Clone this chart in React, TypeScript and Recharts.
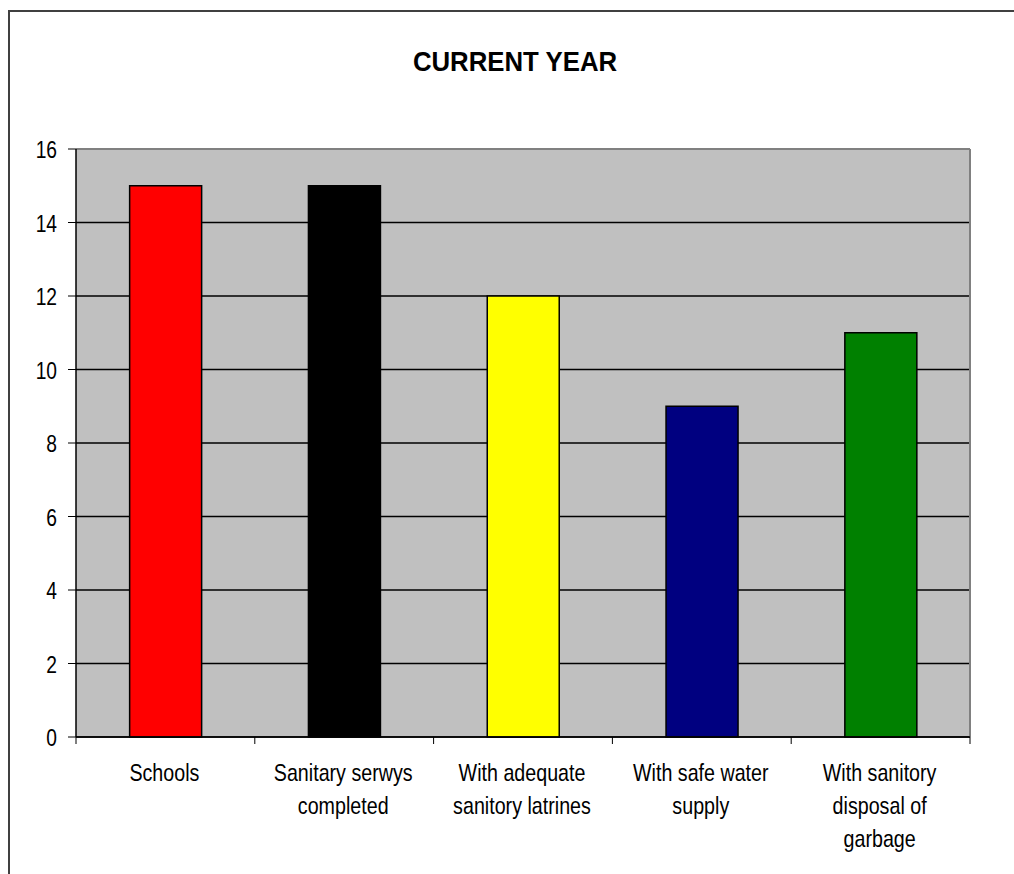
import React from 'react';
import { BarChart, Bar, XAxis, YAxis, CartesianGrid, Cell } from 'recharts';

const categories = [
  'Schools',
  'Sanitary serwys\ncompleted',
  'With adequate\nsanitory latrines',
  'With safe water\nsupply',
  'With sanitory\ndisposal of\ngarbage',
];
const values = [15, 15, 12, 9, 11];
const barColors = ['#FF0000', '#000000', '#FFFF00', '#000080', '#008000'];
const yTicks = [0, 2, 4, 6, 8, 10, 12, 14, 16];

const data = categories.map((name, i) => ({ name, value: values[i] }));

const FONT = '"Liberation Sans", Arial, sans-serif';

const YTick = (props: any) => {
  const { x, y, payload } = props;
  return (
    <text
      transform={`translate(${x - 9}, ${y + 9}) scale(0.8, 1)`}
      textAnchor="end"
      fontFamily={FONT}
      fontSize={24}
      fill="#000"
    >
      {payload.value}
    </text>
  );
};

const XTick = (props: any) => {
  const { x, y, payload, index } = props;
  const half = payload.offset ?? 89.4;
  const lines = String(payload.value).split('\n');
  const top = y - 8;
  return (
    <g>
      <line x1={x - half} x2={x - half} y1={top} y2={top + 7} stroke="#000" />
      {index === categories.length - 1 && (
        <line x1={x + half} x2={x + half} y1={top} y2={top + 7} stroke="#000" />
      )}
      {lines.map((ln, i) => (
        <text
          key={i}
          transform={`translate(${x - 1}, ${top + 44 + i * 33}) scale(0.82, 1)`}
          textAnchor="middle"
          fontFamily={FONT}
          fontSize={24}
          fill="#000"
        >
          {ln}
        </text>
      ))}
    </g>
  );
};

export default function App() {
  return (
    <div
      style={{
        position: 'fixed',
        left: 0,
        top: 0,
        width: 1014,
        height: 874,
        overflow: 'hidden',
        background: '#fff',
      }}
    >
      <div
        style={{
          position: 'absolute',
          left: 8,
          top: 10,
          width: 1100,
          height: 1000,
          border: '2px solid #404040',
        }}
      />
      <div
        style={{
          position: 'absolute',
          left: 315,
          width: 400,
          top: 46,
          textAlign: 'center',
          fontFamily: FONT,
          fontWeight: 'bold',
          fontSize: 28,
          transform: 'scaleX(0.92)',
          color: '#000',
        }}
      >
        CURRENT YEAR
      </div>
      <div style={{ position: 'absolute', left: 0, top: 0 }}>
        <BarChart
          width={1014}
          height={874}
          data={data}
          margin={{ top: 149, right: 44, bottom: 0, left: 0 }}
          barCategoryGap="30%"
        >
          <CartesianGrid vertical={false} fill="#C0C0C0" stroke="#000" strokeWidth={1.5} />
          <CartesianGrid
            horizontalCoordinatesGenerator={({ offset }: any) => [offset.top]}
            verticalCoordinatesGenerator={({ offset }: any) => [offset.left + offset.width]}
            stroke="#808080"
            strokeWidth={2}
          />
          <XAxis
            dataKey="name"
            interval={0}
            tickLine={false}
            axisLine={{ stroke: '#000', strokeWidth: 1.5 }}
            tick={<XTick />}
            height={137}
          />
          <YAxis
            width={76}
            domain={[0, 16]}
            ticks={yTicks}
            tickSize={8}
            tickLine={{ stroke: '#000' }}
            axisLine={{ stroke: '#000', strokeWidth: 1.5 }}
            tick={<YTick />}
          />
          <Bar dataKey="value" stroke="#000" strokeWidth={1.5} isAnimationActive={false}>
            {data.map((d, i) => (
              <Cell key={d.name} fill={barColors[i]} />
            ))}
          </Bar>
        </BarChart>
      </div>
    </div>
  );
}
